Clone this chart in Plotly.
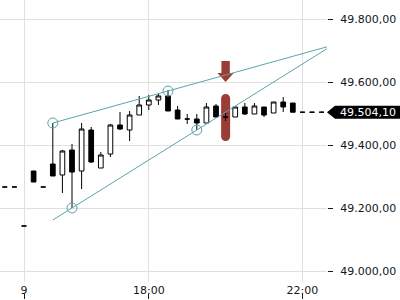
import plotly.graph_objects as go

# ---- data (bar index = 15-minute bars) ----
bar_index = list(range(34))
open_ = [49266.7, 49266.7, 49142.9, 49317.5, 49266.7, 49339.7, 49304.8, 49384.1, 49317.5, 49447.6,
         49327.0, 49371.4, 49463.5, 49447.6, 49495.2, 49527.0, 49542.9, 49555.6, 49511.1, 49482.5,
         49482.5, 49469.8, 49523.8, 49488.9, 49488.9, 49520.6, 49498.4, 49520.6, 49501.6, 49536.5,
         49533.3, 49504.1, 49504.1, 49504.1]
high = [49266.7, 49266.7, 49142.9, 49317.5, 49266.7, 49469.8, 49384.1, 49403.2, 49469.8, 49457.1,
        49377.8, 49466.7, 49504.8, 49507.9, 49555.6, 49558.7, 49565.1, 49574.6, 49523.8, 49498.4,
        49498.4, 49533.3, 49530.2, 49501.6, 49520.6, 49533.3, 49533.3, 49520.6, 49536.5, 49552.4,
        49533.3, 49504.1, 49504.1, 49504.1]
low = [49266.7, 49266.7, 49142.9, 49282.5, 49266.7, 49301.6, 49247.6, 49200.0, 49260.3, 49342.9,
       49327.0, 49361.9, 49447.6, 49412.7, 49495.2, 49511.1, 49527.0, 49507.9, 49482.5, 49466.7,
       49447.6, 49469.8, 49488.9, 49476.2, 49488.9, 49495.2, 49498.4, 49488.9, 49501.6, 49504.8,
       49504.1, 49504.1, 49504.1, 49504.1]
close = [49266.7, 49266.7, 49142.9, 49282.5, 49266.7, 49301.6, 49381.0, 49314.3, 49450.8, 49346.0,
         49368.3, 49463.5, 49450.8, 49495.2, 49527.0, 49542.9, 49555.6, 49507.9, 49482.5, 49482.5,
         49469.8, 49520.6, 49488.9, 49488.9, 49520.6, 49498.4, 49523.8, 49495.2, 49536.5, 49520.6,
         49504.1, 49504.1, 49504.1, 49504.1]

x_tick_vals = [2, 15, 31]
x_tick_text = ["9", "18:00", "22:00"]
y_tick_vals = [49000, 49200, 49400, 49600, 49800]

# trend line anchor points (bar index, price)
upper_anchor_x = [5, 17]
upper_anchor_y = [49469.8, 49571.4]
lower_anchor_x = [7, 20]
lower_anchor_y = [49200.0, 49447.6]
line_start_x = 5
line_end_x = 33.6

# signal marker
signal_x = 23
signal_low = 49412.7
signal_high = 49561.9
arrow_top = 49666.7
arrow_neck = 49628.6
arrow_tip = 49600.0
last_price = 49504.1

x_range = [-0.5, 33.56]
y_range = [48965.1, 49860.3]

TEAL = "#5ca3aa"
RED = "#9c3c37"
INK = "#131722"
GRID = "#e0e0e0"


def extend(xs, ys, x0, x1):
    slope = (ys[1] - ys[0]) / (xs[1] - xs[0])
    return [x0, x1], [ys[0] + slope * (x0 - xs[0]), ys[0] + slope * (x1 - xs[0])]


fig = go.Figure()

fig.add_trace(go.Candlestick(
    x=bar_index, open=open_, high=high, low=low, close=close,
    increasing=dict(line=dict(color="black", width=1), fillcolor="white"),
    decreasing=dict(line=dict(color="black", width=1), fillcolor="black"),
    whiskerwidth=0, hoverinfo="skip", showlegend=False,
))

for ax, ay in ((upper_anchor_x, upper_anchor_y), (lower_anchor_x, lower_anchor_y)):
    lx, ly = extend(ax, ay, line_start_x, line_end_x)
    fig.add_trace(go.Scatter(x=lx, y=ly, mode="lines", line=dict(color=TEAL, width=1),
                             hoverinfo="skip", showlegend=False))
    fig.add_trace(go.Scatter(x=ax, y=ay, mode="markers",
                             marker=dict(symbol="circle-open", size=10, color=TEAL, line=dict(width=1)),
                             hoverinfo="skip", showlegend=False))

# dummy trace for the tick-mark axis
fig.add_trace(go.Scatter(x=x_tick_vals, y=[last_price] * 3, xaxis="x2", mode="lines",
                         line=dict(width=0), opacity=0, hoverinfo="skip", showlegend=False))

# capsule shape (in data units)
px_x = (x_range[1] - x_range[0]) / 327.0
px_y = (y_range[1] - y_range[0]) / 282.0
hw = 4.5 * px_x
ry = 4.5 * px_y
k = 0.5523
xl, xr, xc = signal_x - hw, signal_x + hw, signal_x
yt, yb = signal_high, signal_low
capsule = (f"M {xl},{yt - ry} L {xl},{yb + ry} "
           f"C {xl},{yb + ry - k * ry} {xc - k * hw},{yb} {xc},{yb} "
           f"C {xc + k * hw},{yb} {xr},{yb + ry - k * ry} {xr},{yb + ry} "
           f"L {xr},{yt - ry} "
           f"C {xr},{yt - ry + k * ry} {xc + k * hw},{yt} {xc},{yt} "
           f"C {xc - k * hw},{yt} {xl},{yt - ry + k * ry} {xl},{yt - ry} Z")
fig.add_shape(type="path", path=capsule, xref="x", yref="y", fillcolor=RED,
              line=dict(width=0), layer="between")

bw = 4.2 * px_x
hw2 = 8.2 * px_x
arrow = (f"M {signal_x - bw},{arrow_top} L {signal_x + bw},{arrow_top} L {signal_x + bw},{arrow_neck} "
         f"L {signal_x + hw2},{arrow_neck} L {signal_x},{arrow_tip} L {signal_x - hw2},{arrow_neck} "
         f"L {signal_x - bw},{arrow_neck} Z")
fig.add_shape(type="path", path=arrow, xref="x", yref="y", fillcolor=RED,
              line=dict(width=0), layer="between")

# last price label
pw = 327.0
lh = 6.5 * px_y
label = (f"M 1.0,{last_price} L {335 / pw},{last_price + lh} L {400 / pw},{last_price + lh} "
         f"L {400 / pw},{last_price - lh} L {335 / pw},{last_price - lh} Z")
fig.add_shape(type="path", path=label, xref="paper", yref="y", fillcolor="black",
              line=dict(width=0), layer="above")
fig.add_annotation(x=367.5 / pw, y=last_price, xref="paper", yref="y",
                   text=f"{last_price:,.2f}".replace(",", "X").replace(".", ",").replace("X", "."),
                   showarrow=False, font=dict(color="white", size=11, family="DejaVu Sans"),
                   xanchor="center", yanchor="middle")

fig.update_layout(
    width=400, height=300,
    margin=dict(l=0, r=73, t=0, b=7),
    paper_bgcolor="white", plot_bgcolor="white",
    separators=",.",
    font=dict(family="DejaVu Sans", size=11, color=INK),
    showlegend=False,
    xaxis=dict(range=x_range, tickvals=x_tick_vals, ticktext=x_tick_text, ticks="",
               showgrid=True, gridcolor=GRID, gridwidth=1, zeroline=False, showline=False,
               rangeslider=dict(visible=False), tickfont=dict(size=11, color=INK)),
    xaxis2=dict(overlaying="x", matches="x", anchor="free", position=0, tickvals=x_tick_vals,
                ticks="outside", ticklen=5, tickcolor=INK, showticklabels=False,
                showgrid=False, zeroline=False, showline=False),
    yaxis=dict(range=y_range, domain=[11 / 293, 1], side="right", tickvals=y_tick_vals,
               tickformat=",.2f", ticks="outside", ticklen=5, tickcolor=INK,
               ticklabelstandoff=5,
               showgrid=True, gridcolor=GRID, gridwidth=1, zeroline=False, showline=False,
               tickfont=dict(size=11, color=INK)),
)

fig.write_html("out.html")
